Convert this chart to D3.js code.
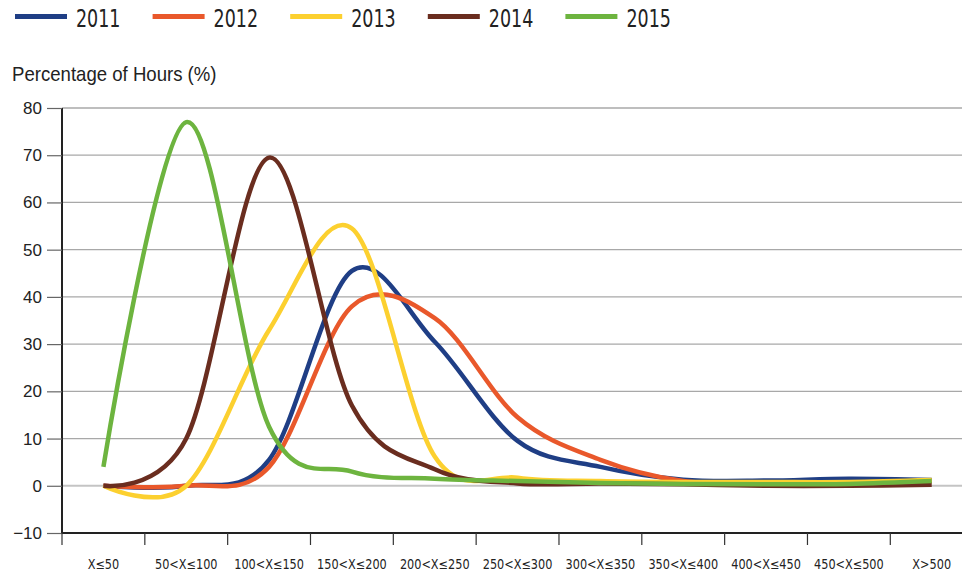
<!DOCTYPE html>
<html>
<head>
<meta charset="utf-8">
<script src="https://cdn.jsdelivr.net/npm/d3@7"></script>
<style>
html,body{margin:0;padding:0;background:#fff;}
svg{display:block;}
</style>
</head>
<body>
<svg id="chart" width="962" height="576"></svg>
<script>
const categories = ["X≤50","50<X≤100","100<X≤150","150<X≤200","200<X≤250","250<X≤300","300<X≤350","350<X≤400","400<X≤450","450<X≤500","X>500"];
const years = ["2011","2012","2013","2014","2015"];
const colors = ["#1f3e85","#e9582b","#fcd02f","#6a2d1f","#6db43f"];
const values2011 = [0, 0, 5.5, 45.5, 30.5, 9.5, 4, 1.3, 1.1, 1.5, 1.2];
const values2012 = [0, 0, 4, 38, 35.5, 14.5, 5.5, 1.0, 0.5, 0.3, 1.0];
const values2013 = [0, 0, 33, 54.5, 6.2, 1.7, 1.0, 0.8, 0.8, 0.8, 1.2];
const values2014 = [0, 10, 69.5, 17, 3.5, 0.5, 0.5, 0.3, 0, 0, 0.2];
const values2015 = [4, 77, 12.5, 3.0, 1.5, 1.0, 0.6, 0.4, 0.3, 0.4, 1.0];
const yTicks = [-10, 0, 10, 20, 30, 40, 50, 60, 70, 80];
const yTitle = "Percentage of Hours (%)";

const series = [values2011, values2012, values2013, values2014, values2015];

(function () {
const svg = d3.select("#chart");
const mLeft = 62, mTop = 108, mBottom = 533, rightEdge = 962;
const condensed = "'Liberation Sans Narrow','DejaVu Sans Condensed', sans-serif";
const x = d3.scaleBand().domain(categories).range([mLeft, mLeft + 11 * 82.83]).padding(0);
const y = d3.scaleLinear().domain([-10, 80]).range([mBottom, mTop]);

// gridlines
svg.append("g").selectAll("line").data(yTicks.filter(t => t > -10)).join("line")
  .attr("x1", mLeft).attr("x2", rightEdge)
  .attr("y1", d => y(d)).attr("y2", d => y(d))
  .attr("stroke", d => d === 0 ? "#c4c4c4" : "#a8a8a8")
  .attr("stroke-width", d => d === 0 ? 2 : 1.3);

// y axis
const yAxis = d3.axisLeft(y).tickValues(yTicks).tickSize(15).tickPadding(5).tickFormat(d3.format("d"));
const gy = svg.append("g").attr("transform", `translate(${mLeft},0)`).call(yAxis);
gy.select(".domain").attr("stroke", "#222").attr("stroke-width", 2).attr("d", `M0,${mTop}V${mBottom}`);
gy.selectAll(".tick line").attr("stroke", "#666").attr("stroke-width", 1.2);
gy.selectAll(".tick text").attr("fill", "#222").style("font-family", "'Liberation Sans', Arial, sans-serif").style("font-size", "17px");

// x axis
const xAxis = d3.axisBottom(x).tickSize(0).tickPadding(26);
const gx = svg.append("g").attr("transform", `translate(0,${mBottom})`).call(xAxis);
gx.select(".domain").attr("stroke", "#222").attr("stroke-width", 2).attr("d", `M${mLeft},0H${rightEdge}`);
gx.selectAll(".tick text").attr("fill", "#222").attr("transform", "scale(0.93,1)")
  .style("font-family", condensed).style("font-size", "13.5px");
// boundary ticks
svg.append("g").selectAll("line").data(categories).join("line")
  .attr("x1", d => x(d)).attr("x2", d => x(d))
  .attr("y1", mBottom).attr("y2", mBottom + 12)
  .attr("stroke", "#333").attr("stroke-width", 1.2);

// lines
const line = d3.line()
  .x((d, i) => x(categories[i]) + x.bandwidth() / 2)
  .y(d => y(d))
  .curve(d3.curveCardinal.tension(0));
svg.append("g").selectAll("path").data(series).join("path")
  .attr("d", d => line(d))
  .attr("fill", "none")
  .attr("stroke", (d, i) => colors[i])
  .attr("stroke-width", 4.5)
  .attr("stroke-linejoin", "round");

// y title
svg.append("text").attr("transform", "translate(12,81) scale(0.93,1)").text(yTitle)
  .attr("fill", "#222").style("font-family", "'Liberation Sans', Arial, sans-serif").style("font-size", "20px");

// legend
const lg = svg.append("g").selectAll("g").data(years).join("g")
  .attr("transform", (d, i) => `translate(${15 + i * 137.6},0)`);
lg.append("line").attr("x1", 0).attr("x2", 52).attr("y1", 16.5).attr("y2", 16.5)
  .attr("stroke", (d, i) => colors[i]).attr("stroke-width", 5);
lg.append("text").attr("transform", "translate(61,27) scale(0.81,1)").text(d => d)
  .attr("fill", "#222").style("font-family", condensed).style("font-size", "24px");
})();
</script>
</body>
</html>
